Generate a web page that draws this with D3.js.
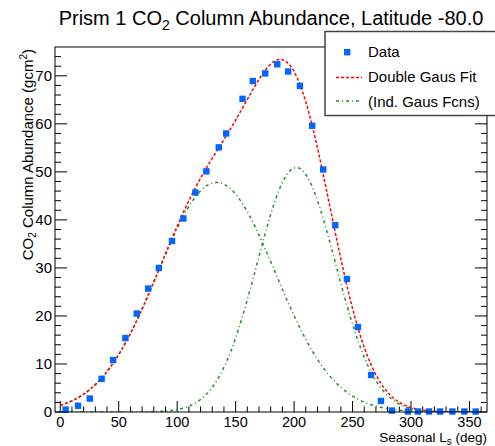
<!DOCTYPE html>
<html>
<head>
<meta charset="utf-8">
<script src="https://cdn.jsdelivr.net/npm/d3@7"></script>
<style>
  body { margin: 0; background: #fff; }
  text { font-family: "Liberation Sans", Arial, sans-serif; fill: #000; }
</style>
</head>
<body>
<div id="vis"></div>
<script>
// data
const LS_DEG = [4.6, 15.2, 25.3, 35.4, 45.2, 55.7, 65.4, 75.2, 84.3, 95.6, 105.3, 115.6,
  125.0, 135.6, 141.9, 155.9, 164.7, 175.3, 185.6, 194.9, 205.0, 215.5, 224.9, 235.2,
  245.2, 254.6, 265.9, 274.3, 283.7, 297.4, 305.9, 315.4, 324.9, 335.4, 345.6, 355.3];
const CO2_ABUND = [0.5, 1.3, 2.8, 6.9, 10.8, 15.4, 20.5, 25.7, 30.0, 35.6, 40.3, 45.7,
  50.1, 55.1, 58.0, 65.2, 68.9, 70.5, 72.4, 70.9, 67.9, 59.6, 50.5, 38.9,
  27.7, 17.7, 7.7, 2.3, 0.3, 0.1, 0.1, 0.1, 0.1, 0.1, 0.1, 0.1];
// fit parameters [amplitude, mean, sigma]
const GAUS1 = [47.8, 133.7, 50.3];
const GAUS2 = [50.9, 201.9, 33.6];
const X_TICKS = [0, 50, 100, 150, 200, 250, 300, 350];
const Y_TICKS = [0, 10, 20, 30, 40, 50, 60, 70];

const W = 495, H = 446;
const FRAME = {left: 55, right: 487, top: 47, bottom: 412};

const svg = d3.select("#vis").append("svg")
  .attr("width", W).attr("height", H);

svg.append("rect").attr("width", W).attr("height", H).attr("fill", "#fff");

const X_SCALE = d3.scaleLinear().domain([-4.5, 365]).range([FRAME.left, FRAME.right]);
const Y_SCALE = d3.scaleLinear().domain([0, 76]).range([FRAME.bottom, FRAME.top]);

const gaus = (p, x) => p[0] * Math.exp(-((x - p[1]) ** 2) / (2 * p[2] * p[2]));

svg.append("clipPath").attr("id", "clip")
  .append("rect")
  .attr("x", FRAME.left).attr("y", FRAME.top)
  .attr("width", FRAME.right - FRAME.left).attr("height", FRAME.bottom - FRAME.top);

// ticks: x bottom
const xMinor = d3.range(0, 361, 10);
svg.append("g").selectAll("line").data(xMinor).enter().append("line")
  .attr("x1", d => X_SCALE(d)).attr("x2", d => X_SCALE(d))
  .attr("y1", FRAME.bottom)
  .attr("y2", d => FRAME.bottom - (d % 50 === 0 ? 11 : 5.5))
  .attr("stroke", "#000").attr("stroke-width", 1);

// ticks: y left and right
const yMinor = d3.range(0, 76, 2);
[[FRAME.left, 1], [FRAME.right, -1]].forEach(([x0, dir]) => {
  svg.append("g").selectAll("line").data(yMinor).enter().append("line")
    .attr("x1", x0)
    .attr("x2", d => x0 + dir * (d % 10 === 0 ? 12 : 6))
    .attr("y1", d => Y_SCALE(d)).attr("y2", d => Y_SCALE(d))
    .attr("stroke", "#000").attr("stroke-width", 1);
});

// tick labels
svg.append("g").selectAll("text").data(X_TICKS).enter().append("text")
  .attr("x", d => X_SCALE(d)).attr("y", 426.5)
  .attr("text-anchor", "middle").attr("font-size", 14.5)
  .text(d => d);
svg.append("g").selectAll("text").data(Y_TICKS).enter().append("text")
  .attr("x", 52).attr("y", d => Y_SCALE(d) + 5.3)
  .attr("text-anchor", "end").attr("font-size", 15)
  .text(d => d);

// curves
const xs = d3.range(0, 360.01, 1);
const line = d3.line().x(d => X_SCALE(d[0])).y(d => Y_SCALE(d[1]));
const curves = svg.append("g").attr("clip-path", "url(#clip)");
[GAUS1, GAUS2].forEach(p => {
  curves.append("path")
    .attr("d", line(xs.map(x => [x, gaus(p, x)])))
    .attr("fill", "none").attr("stroke", "#1f8f1f").attr("stroke-width", 1.5)
    .attr("stroke-dasharray", "3,3,1,3");
});
curves.append("path")
  .attr("d", line(xs.map(x => [x, gaus(GAUS1, x) + gaus(GAUS2, x)])))
  .attr("fill", "none").attr("stroke", "#ff0000").attr("stroke-width", 1.5)
  .attr("stroke-dasharray", "3,2");

// data markers
svg.append("g").selectAll("rect").data(LS_DEG).enter().append("rect")
  .attr("x", (d, i) => X_SCALE(d) - 3.2)
  .attr("y", (d, i) => Y_SCALE(CO2_ABUND[i]) - 3.2)
  .attr("width", 6.4).attr("height", 6.4)
  .attr("fill", "#0066ff");

// frame
svg.append("rect")
  .attr("x", FRAME.left).attr("y", FRAME.top)
  .attr("width", FRAME.right - FRAME.left).attr("height", FRAME.bottom - FRAME.top)
  .attr("fill", "none").attr("stroke", "#000").attr("stroke-width", 1);

// title
const title = svg.append("text").attr("x", 271).attr("y", 25)
  .attr("text-anchor", "middle").attr("font-size", 20);
title.append("tspan").text("Prism 1 CO");
title.append("tspan").attr("font-size", 14).attr("dy", 5).text("2");
title.append("tspan").attr("dy", -5).text(" Column  Abundance, Latitude -80.0");

// axis titles
const xt = svg.append("text").attr("x", 487).attr("y", 442)
  .attr("text-anchor", "end").attr("font-size", 13.5);
xt.append("tspan").text("Seasonal L");
xt.append("tspan").attr("font-size", 10).attr("dy", 3).text("s");
xt.append("tspan").attr("dy", -3).text(" (deg)");

const yt = svg.append("text")
  .attr("transform", "translate(33,49) rotate(-90)")
  .attr("text-anchor", "end").attr("font-size", 15);
yt.append("tspan").text("CO");
yt.append("tspan").attr("font-size", 10).attr("dy", 3).text("2");
yt.append("tspan").attr("dy", -3).text(" Column Abundance (gcm");
yt.append("tspan").attr("font-size", 10).attr("dy", -6).text("2");
yt.append("tspan").attr("dy", 6).text(")");

// legend
const lg = svg.append("g");
lg.append("rect").attr("x", 325).attr("y", 31.5).attr("width", 180).attr("height", 84)
  .attr("fill", "#fff").attr("stroke", "#444").attr("stroke-width", 1.5);
lg.append("rect").attr("x", 344).attr("y", 49).attr("width", 6.4).attr("height", 6.4)
  .attr("fill", "#0066ff");
lg.append("line").attr("x1", 336).attr("x2", 362).attr("y1", 77.5).attr("y2", 77.5)
  .attr("stroke", "#ff0000").attr("stroke-width", 1.5).attr("stroke-dasharray", "3,2");
lg.append("line").attr("x1", 336).attr("x2", 362).attr("y1", 101).attr("y2", 101)
  .attr("stroke", "#1f8f1f").attr("stroke-width", 1.5).attr("stroke-dasharray", "3,3,1,3");
const legendLabels = ["Data", "Double Gaus Fit", "(Ind. Gaus Fcns)"];
lg.selectAll("text.lab").data(legendLabels).enter().append("text")
  .attr("x", 368).attr("y", (d, i) => 57 + i * 25)
  .attr("font-size", 15).text(d => d);
</script>
</body>
</html>
